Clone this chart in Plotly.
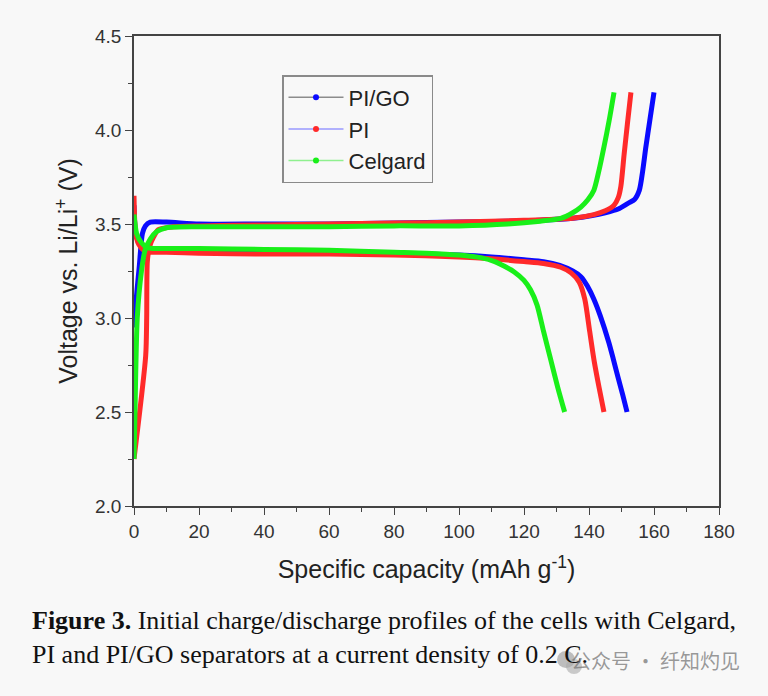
import plotly.graph_objects as go

# ---------------- data ----------------
series_names = ["PI/GO", "PI", "Celgard"]

pigo_charge_cap = [0, 0.3, 1.6, 2.6, 3.5, 5, 10, 20, 40, 60, 80, 100, 115, 125, 135, 141, 145, 149, 152, 154, 155.5, 156.5, 157.5, 158.7, 160]
pigo_charge_v = [2.95, 3.03, 3.27, 3.45, 3.49, 3.51, 3.51, 3.50, 3.50, 3.50, 3.505, 3.51, 3.515, 3.52, 3.53, 3.545, 3.56, 3.58, 3.61, 3.63, 3.68, 3.78, 3.91, 4.05, 4.20]
pigo_dis_cap = [0, 0.5, 1.5, 3, 5, 10, 20, 40, 60, 80, 100, 110, 120, 126, 131, 135, 137.5, 139.5, 141.5, 143.5, 146.1, 147.5, 149, 150.4, 151.7]
pigo_dis_v = [3.60, 3.45, 3.40, 3.37, 3.36, 3.36, 3.355, 3.35, 3.35, 3.345, 3.335, 3.325, 3.31, 3.30, 3.28, 3.25, 3.22, 3.17, 3.10, 3.01, 2.87, 2.78, 2.68, 2.59, 2.50]

pi_charge_cap = [0, 3.6, 3.9, 4.1, 4.8, 6, 7.5, 12, 20, 40, 60, 80, 100, 120, 135, 141.5, 145, 147.7, 149, 149.8, 150.8, 151.8, 152.9]
pi_charge_v = [2.25, 2.80, 3.00, 3.30, 3.38, 3.43, 3.47, 3.485, 3.49, 3.495, 3.50, 3.505, 3.51, 3.52, 3.53, 3.55, 3.57, 3.60, 3.64, 3.70, 3.87, 4.03, 4.20]
pi_dis_cap = [0, 0.5, 1.5, 3, 5, 10, 20, 40, 60, 80, 100, 110, 120, 126, 131.3, 134.5, 137, 138.7, 140.2, 141.6, 143.1, 144.6]
pi_dis_v = [3.65, 3.45, 3.39, 3.36, 3.35, 3.35, 3.345, 3.34, 3.34, 3.335, 3.325, 3.315, 3.30, 3.29, 3.27, 3.24, 3.19, 3.10, 2.93, 2.77, 2.63, 2.50]

celgard_charge_cap = [0, 0.3, 1.0, 2.3, 3.4, 5, 7, 10, 20, 40, 60, 80, 100, 115, 125, 131.3, 135, 137.5, 139.7, 141.5, 143, 144.6, 146.2, 147.7]
celgard_charge_v = [2.25, 2.50, 3.00, 3.25, 3.36, 3.42, 3.46, 3.48, 3.485, 3.485, 3.485, 3.49, 3.49, 3.50, 3.515, 3.53, 3.56, 3.59, 3.63, 3.68, 3.78, 3.91, 4.05, 4.20]
celgard_dis_cap = [0, 0.8, 2.3, 4, 6, 10, 20, 40, 60, 80, 90, 100, 107, 111, 114, 117, 120, 122, 124, 126, 128.2, 130.4, 132.5]
celgard_dis_v = [3.55, 3.45, 3.40, 3.375, 3.37, 3.37, 3.37, 3.365, 3.36, 3.35, 3.345, 3.335, 3.32, 3.30, 3.275, 3.245, 3.20, 3.15, 3.07, 2.93, 2.78, 2.63, 2.50]

x_ticks = [0, 20, 40, 60, 80, 100, 120, 140, 160, 180]
y_ticks = [2.0, 2.5, 3.0, 3.5, 4.0, 4.5]

# ---------------- styles ----------------
curve_colors = ["#0a0aff", "#ff2a2a", "#19ef19"]
legend_line_colors = ["#8c8c8c", "#9a9aff", "#8ff08f"]
BG = "#f8f8f8"
AXC = "#444444"

fig = go.Figure()

curves = [
    (pigo_charge_cap, pigo_charge_v, pigo_dis_cap, pigo_dis_v),
    (pi_charge_cap, pi_charge_v, pi_dis_cap, pi_dis_v),
    (celgard_charge_cap, celgard_charge_v, celgard_dis_cap, celgard_dis_v),
]

for i, (cc, cv, dc, dv) in enumerate(curves):
    for xs, ys in ((cc, cv), (dc, dv)):
        fig.add_trace(go.Scatter(
            x=xs, y=ys, mode="lines",
            line=dict(color=curve_colors[i], width=5, shape="spline", smoothing=0.7),
            showlegend=False, hoverinfo="skip",
        ))

for i, name in enumerate(series_names):
    fig.add_trace(go.Scatter(
        x=[None], y=[None], mode="lines+markers", name=name,
        line=dict(color=legend_line_colors[i], width=1.5),
        marker=dict(color=curve_colors[i], size=6),
    ))

axis_common = dict(
    showline=True, linecolor=AXC, linewidth=1.6, mirror=True,
    ticks="outside", ticklen=7, tickwidth=1.4, tickcolor=AXC,
    showgrid=False, zeroline=False,
    tickfont=dict(family="Liberation Sans, Arial", size=19, color="#333333"),
)

fig.update_xaxes(
    range=[0, 180], tickvals=x_ticks, ticktext=[str(v) for v in x_ticks],
    minor=dict(dtick=10, ticks="outside", ticklen=4, tickwidth=1.2, tickcolor=AXC),
    title=dict(text="Specific capacity (mAh g<sup>-1</sup>)", standoff=20,
               font=dict(family="Liberation Sans, Arial", size=25, color="#222222")),
    **axis_common,
)
fig.update_yaxes(
    range=[2.0, 4.5], tickvals=y_ticks, ticktext=[f"{v:.1f}" for v in y_ticks],
    minor=dict(dtick=0.25, ticks="outside", ticklen=4, tickwidth=1.2, tickcolor=AXC),
    title=dict(text="Voltage vs. Li/Li<sup>+</sup> (V)", standoff=10,
               font=dict(family="Liberation Sans, Arial", size=25, color="#222222")),
    **axis_common,
)

fig.update_layout(
    width=768, height=696,
    margin=dict(l=134, r=49, t=36, b=190),
    paper_bgcolor=BG, plot_bgcolor=BG,
    legend=dict(
        x=0.253, y=0.917, xanchor="left", yanchor="top",
        bgcolor=BG, bordercolor="#8a8a8a", borderwidth=1.5,
        font=dict(family="Liberation Sans, Arial", size=22, color="#222222"),
        itemwidth=55, tracegroupgap=0,
    ),
    annotations=[
        dict(xref="paper", yref="paper", x=-0.178, y=-0.2426, xanchor="left", yanchor="middle",
             text="<b>Figure 3.</b> Initial charge/discharge profiles of the cells with Celgard,",
             showarrow=False, font=dict(family="Liberation Serif, Times New Roman", size=26, color="#111111")),
        dict(xref="paper", yref="paper", x=-0.178, y=-0.317, xanchor="left", yanchor="middle",
             text="PI and PI/GO separators at a current density of 0.2 C.",
             showarrow=False, font=dict(family="Liberation Serif, Times New Roman", size=26, color="#111111")),
        dict(xref="paper", yref="paper", x=1.04, y=-0.328, xanchor="right", yanchor="middle",
             text="公众号 · 纤知灼见",
             showarrow=False, font=dict(family="Noto Sans CJK SC", size=20, color="rgba(120,120,120,0.75)")),
    ],
    shapes=[
        dict(type="circle", xref="paper", yref="paper",
             x0=(557 - 134) / 585, x1=(575 - 134) / 585, y0=(506 - 668) / 470, y1=(506 - 651) / 470,
             fillcolor="rgba(150,150,150,0.6)", line=dict(width=0)),
        dict(type="circle", xref="paper", yref="paper",
             x0=(566 - 134) / 585, x1=(582 - 134) / 585, y0=(506 - 674) / 470, y1=(506 - 659) / 470,
             fillcolor="rgba(170,170,170,0.6)", line=dict(width=0)),
    ],
)

fig.write_html("out.html")
